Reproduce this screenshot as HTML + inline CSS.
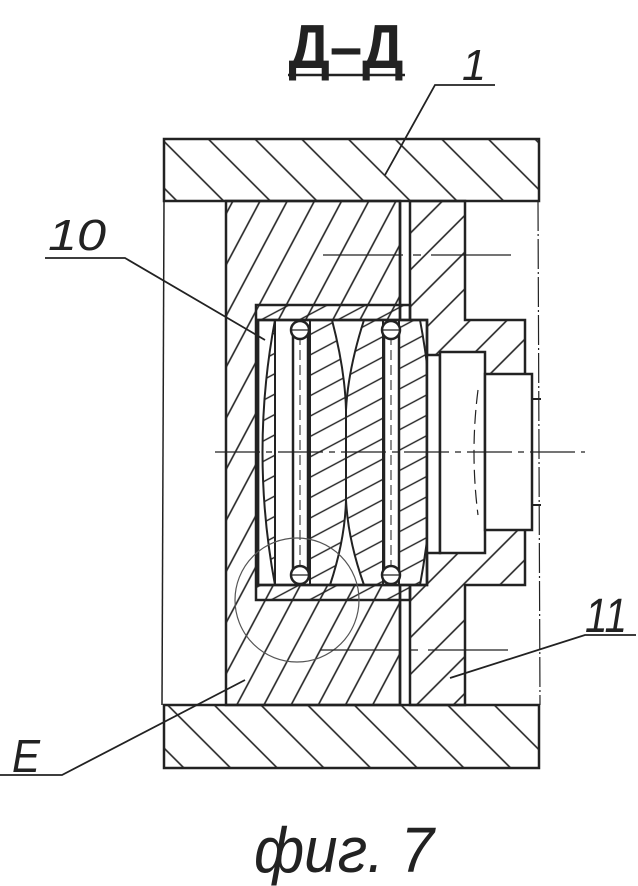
<!DOCTYPE html>
<html><head><meta charset="utf-8"><style>
html,body{margin:0;padding:0;background:#fff;}
svg{display:block;}
text{font-family:"Liberation Sans","DejaVu Sans",sans-serif;fill:#222;}
</style></head><body>
<svg width="638" height="886" viewBox="0 0 638 886" xmlns="http://www.w3.org/2000/svg">
<defs>
<pattern id="hp" width="33" height="33" patternUnits="userSpaceOnUse" patternTransform="rotate(-45)">
<line x1="0" y1="0" x2="0" y2="33" stroke="#222" stroke-width="1.6" transform="translate(16,0)"/></pattern>
<pattern id="hb" width="24" height="24" patternUnits="userSpaceOnUse" patternTransform="rotate(28)">
<line x1="12" y1="0" x2="12" y2="24" stroke="#222" stroke-width="1.6"/></pattern>
<pattern id="hr" width="26" height="26" patternUnits="userSpaceOnUse" patternTransform="rotate(45)">
<line x1="13" y1="0" x2="13" y2="26" stroke="#222" stroke-width="1.6"/></pattern>
<pattern id="hl" width="18" height="18" patternUnits="userSpaceOnUse" patternTransform="rotate(62)">
<line x1="9" y1="0" x2="9" y2="18" stroke="#222" stroke-width="1.4"/></pattern>
</defs>
<g stroke="#222" fill="none" stroke-width="2.5">
<!-- title -->
<text x="346" y="68" text-anchor="middle" font-size="62" font-weight="bold" textLength="115" lengthAdjust="spacingAndGlyphs" stroke="none">Д–Д</text>
<line x1="288" y1="75" x2="405" y2="75" stroke-width="2.5"/>
<!-- plates -->
<rect x="164" y="139" width="375" height="62" fill="url(#hp)"/>
<rect x="164" y="705" width="375" height="63" fill="url(#hp)"/>
<line x1="164" y1="201" x2="162" y2="705" stroke-width="1.5"/>
<line x1="538" y1="201" x2="540" y2="705" stroke-width="1.2" stroke-dasharray="30 3 2 3"/>
<!-- inner block -->
<rect x="226" y="201" width="174" height="504" fill="url(#hb)"/>
<!-- right part -->
<path d="M410 201 H465 V320 H525 V585 H465 V705 H410 Z" fill="url(#hr)"/>
<line x1="400" y1="201" x2="400" y2="705"/>
<!-- cavity -->
<rect x="256" y="305" width="154" height="295" fill="url(#hl)"/>
<rect x="258" y="320" width="169" height="265" fill="#fff"/>
<!-- lens shapes -->
<path d="M275 320 Q250 452 275 585 Z" fill="url(#hl)" stroke-width="2"/>
<path d="M310 320 H332 Q345 370 346 410 L346 500 Q345 540 330 585 H310 Z" fill="url(#hl)" stroke-width="2"/>
<path d="M364 320 H383 V585 H364 Q348 540 346 500 L346 410 Q348 370 364 320 Z" fill="url(#hl)" stroke-width="2"/>
<path d="M399 320 H420 Q445 452 420 585 H399 Z" fill="url(#hl)" stroke-width="2"/>
<rect x="258" y="320" width="169" height="265"/>
<!-- rods -->
<rect x="293" y="330" width="15" height="245" fill="#fff"/>
<rect x="384" y="330" width="15" height="245" fill="#fff"/>
<line x1="300" y1="335" x2="300" y2="570" stroke-width="1" stroke-dasharray="10 5"/>
<line x1="391" y1="335" x2="391" y2="570" stroke-width="1" stroke-dasharray="10 5"/>
<circle cx="300" cy="330" r="9" fill="#fff"/><circle cx="391" cy="330" r="9" fill="#fff"/>
<circle cx="300" cy="575" r="9" fill="#fff"/><circle cx="391" cy="575" r="9" fill="#fff"/>
<line x1="291" y1="330" x2="309" y2="330" stroke-width="1.2"/><line x1="382" y1="330" x2="400" y2="330" stroke-width="1.2"/>
<line x1="291" y1="575" x2="309" y2="575" stroke-width="1.2"/><line x1="382" y1="575" x2="400" y2="575" stroke-width="1.2"/>
<!-- cylinder -->
<rect x="427" y="355" width="13" height="198" fill="#fff"/>
<rect x="440" y="352" width="45" height="201" fill="#fff"/>
<rect x="485" y="374" width="47" height="156" fill="#fff"/>
<line x1="532" y1="399" x2="541" y2="399" stroke-width="2"/>
<line x1="532" y1="505" x2="541" y2="505" stroke-width="2"/>
<path d="M478 390 Q470 452 478 515" stroke-width="1.2" stroke-dasharray="14 6"/>
<!-- circle E -->
<circle cx="297" cy="600" r="62" stroke-width="1.2" stroke="#555"/>
<!-- centerlines -->
<line x1="215" y1="452" x2="585" y2="452" stroke-width="1.2" stroke-dasharray="45 6 6 6"/>
<line x1="323" y1="255" x2="515" y2="255" stroke-width="1.2" stroke-dasharray="80 10 8 10"/>
<line x1="320" y1="650" x2="512" y2="650" stroke-width="1.2" stroke-dasharray="80 10 8 10"/>
<!-- leaders -->
<polyline points="385,175 435,85 495,85" stroke-width="1.8"/>
<polyline points="45,258 125,258 265,340" stroke-width="1.8"/>
<polyline points="450,678 585,635 636,635" stroke-width="1.8"/>
<polyline points="0,775 62,775 245,680" stroke-width="1.8"/>
</g>
<text x="462" y="80" font-size="44" font-style="italic" textLength="24" lengthAdjust="spacingAndGlyphs">1</text>
<text x="48" y="250" font-size="44" font-style="italic" textLength="58" lengthAdjust="spacingAndGlyphs" fill="#555">10</text>
<text x="585" y="632" font-size="48" font-style="italic" textLength="42" lengthAdjust="spacingAndGlyphs" fill="#555">11</text>
<text x="12" y="772" font-size="46" font-style="italic" textLength="28" lengthAdjust="spacingAndGlyphs">E</text>
<text x="254" y="872" font-size="64" font-style="italic" textLength="180" lengthAdjust="spacingAndGlyphs">фиг. 7</text>
</svg>
</body></html>
